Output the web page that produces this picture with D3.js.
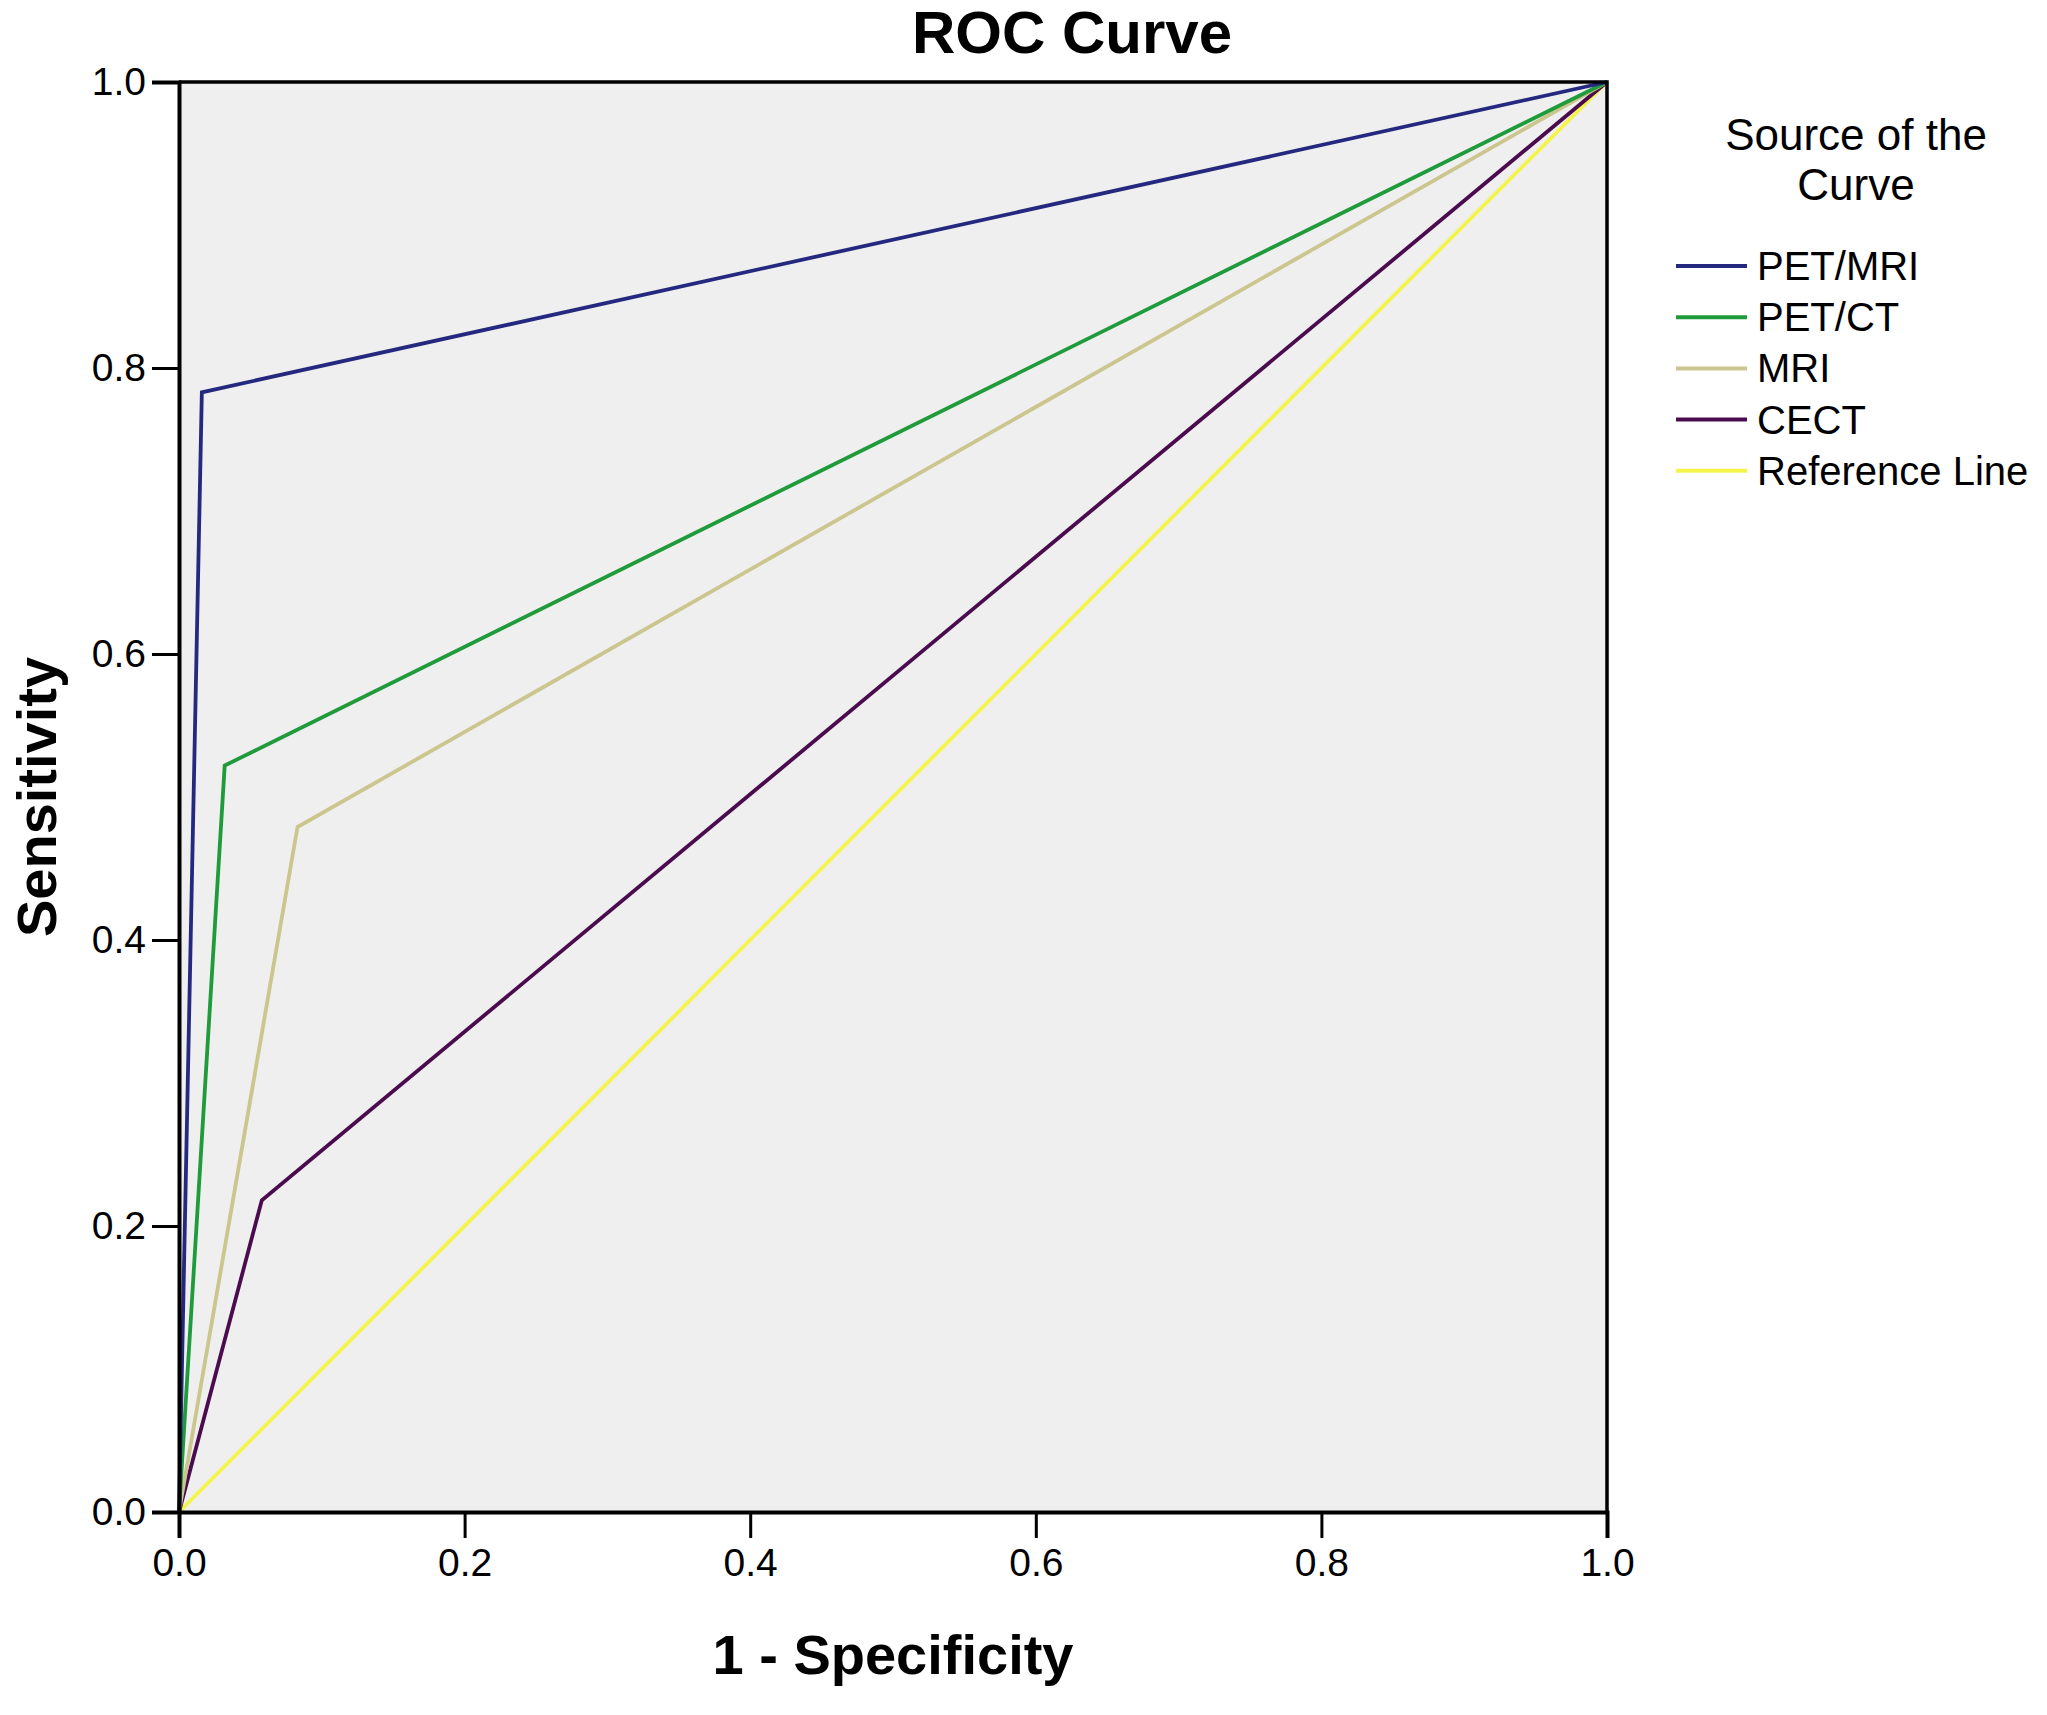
<!DOCTYPE html>
<html>
<head>
<meta charset="utf-8">
<script src="https://cdn.jsdelivr.net/npm/d3@7/dist/d3.min.js"></script>
<style>
  html, body { margin: 0; padding: 0; background: #ffffff; }
  svg { display: block; }
  text { font-family: "Liberation Sans", Arial, sans-serif; fill: #000; }
</style>
</head>
<body>
<svg id="chart" width="2047" height="1715"></svg>
<script>
// ---- data ----
const seriesNames = ["PET/MRI", "PET/CT", "MRI", "CECT", "Reference Line"];
const seriesColors = ["#24297f", "#1f9b3b", "#cbc58e", "#4a0c4e", "#f4f44a"];
const petMriX = [0, 0.0, 0.016, 1.0];
const petMriY = [0, 0.0, 0.783, 1.0];
const petCtX = [0, 0.032, 1.0];
const petCtY = [0, 0.522, 1.0];
const mriX = [0, 0.083, 1.0];
const mriY = [0, 0.479, 1.0];
const cectX = [0, 0.058, 1.0];
const cectY = [0, 0.218, 1.0];
const refX = [0, 1.0];
const refY = [0, 1.0];
const tickValues = [0.0, 0.2, 0.4, 0.6, 0.8, 1.0];

const svg = d3.select("#chart");
const pLeft = 179, pRight = 1607, pTop = 82, pBottom = 1512;
const x = d3.scaleLinear().domain([0, 1]).range([pLeft, pRight]);
const y = d3.scaleLinear().domain([0, 1]).range([pBottom, pTop]);

// plot background
svg.append("rect").attr("x", pLeft).attr("y", pTop)
  .attr("width", pRight - pLeft).attr("height", pBottom - pTop)
  .attr("fill", "#efefef");

const line = d3.line().x(d => x(d[0])).y(d => y(d[1]));
const zip = (a, b) => a.map((v, i) => [v, b[i]]);
const seriesData = [
  zip(petMriX, petMriY),
  zip(petCtX, petCtY),
  zip(mriX, mriY),
  zip(cectX, cectY),
  zip(refX, refY)
];

// draw lines: reference first, then others
const drawOrder = [4, 3, 2, 1, 0];
drawOrder.forEach(i => {
  svg.append("path")
    .datum(seriesData[i])
    .attr("d", line)
    .attr("fill", "none")
    .attr("stroke", seriesColors[i])
    .attr("stroke-width", 3.8)
    .attr("stroke-linejoin", "miter");
});

// frame (top & right)
svg.append("path")
  .attr("d", `M${pLeft},${pTop}H${pRight}V${pBottom}`)
  .attr("fill", "none").attr("stroke", "#000").attr("stroke-width", 3.5);

// axes
const fmt = d3.format(".1f");
const xAxis = svg.append("g").attr("transform", `translate(0,${pBottom})`)
  .call(d3.axisBottom(x).tickValues(tickValues).tickFormat(fmt).tickSize(26).tickPadding(10));
const yAxis = svg.append("g").attr("transform", `translate(${pLeft},0)`)
  .call(d3.axisLeft(y).tickValues(tickValues).tickFormat(fmt).tickSize(27).tickPadding(6));
[xAxis, yAxis].forEach(g => {
  g.select(".domain").attr("stroke", "#000").attr("stroke-width", 4);
  g.selectAll(".tick line").attr("stroke", "#000").attr("stroke-width", 3);
  g.selectAll(".tick text").attr("font-size", 39)
    .attr("font-family", "'Liberation Sans', Arial, sans-serif").attr("fill", "#000");
});
xAxis.selectAll(".tick text").attr("dy", "0.72em");

// title
svg.append("text").attr("x", 1072).attr("y", 53).attr("text-anchor", "middle")
  .attr("font-size", 60).attr("font-weight", "bold").text("ROC Curve");

// axis labels
svg.append("text").attr("x", (pLeft + pRight) / 2).attr("y", 1674).attr("text-anchor", "middle")
  .attr("font-size", 56).attr("font-weight", "bold").text("1 - Specificity");
svg.append("text").attr("transform", `translate(56,${(pTop + pBottom) / 2}) rotate(-90)`)
  .attr("text-anchor", "middle")
  .attr("font-size", 56).attr("font-weight", "bold").text("Sensitivity");

// legend
svg.append("text").attr("x", 1856).attr("y", 150).attr("text-anchor", "middle")
  .attr("font-size", 44).text("Source of the");
svg.append("text").attr("x", 1856).attr("y", 200).attr("text-anchor", "middle")
  .attr("font-size", 44).text("Curve");
const legend = svg.append("g");
seriesNames.forEach((name, i) => {
  const ly = 266 + i * 51.2;
  legend.append("line").attr("x1", 1676).attr("x2", 1747).attr("y1", ly).attr("y2", ly)
    .attr("stroke", seriesColors[i]).attr("stroke-width", 4);
  legend.append("text").attr("x", 1757).attr("y", ly + 14)
    .attr("font-size", 40).text(name);
});
</script>
</body>
</html>
